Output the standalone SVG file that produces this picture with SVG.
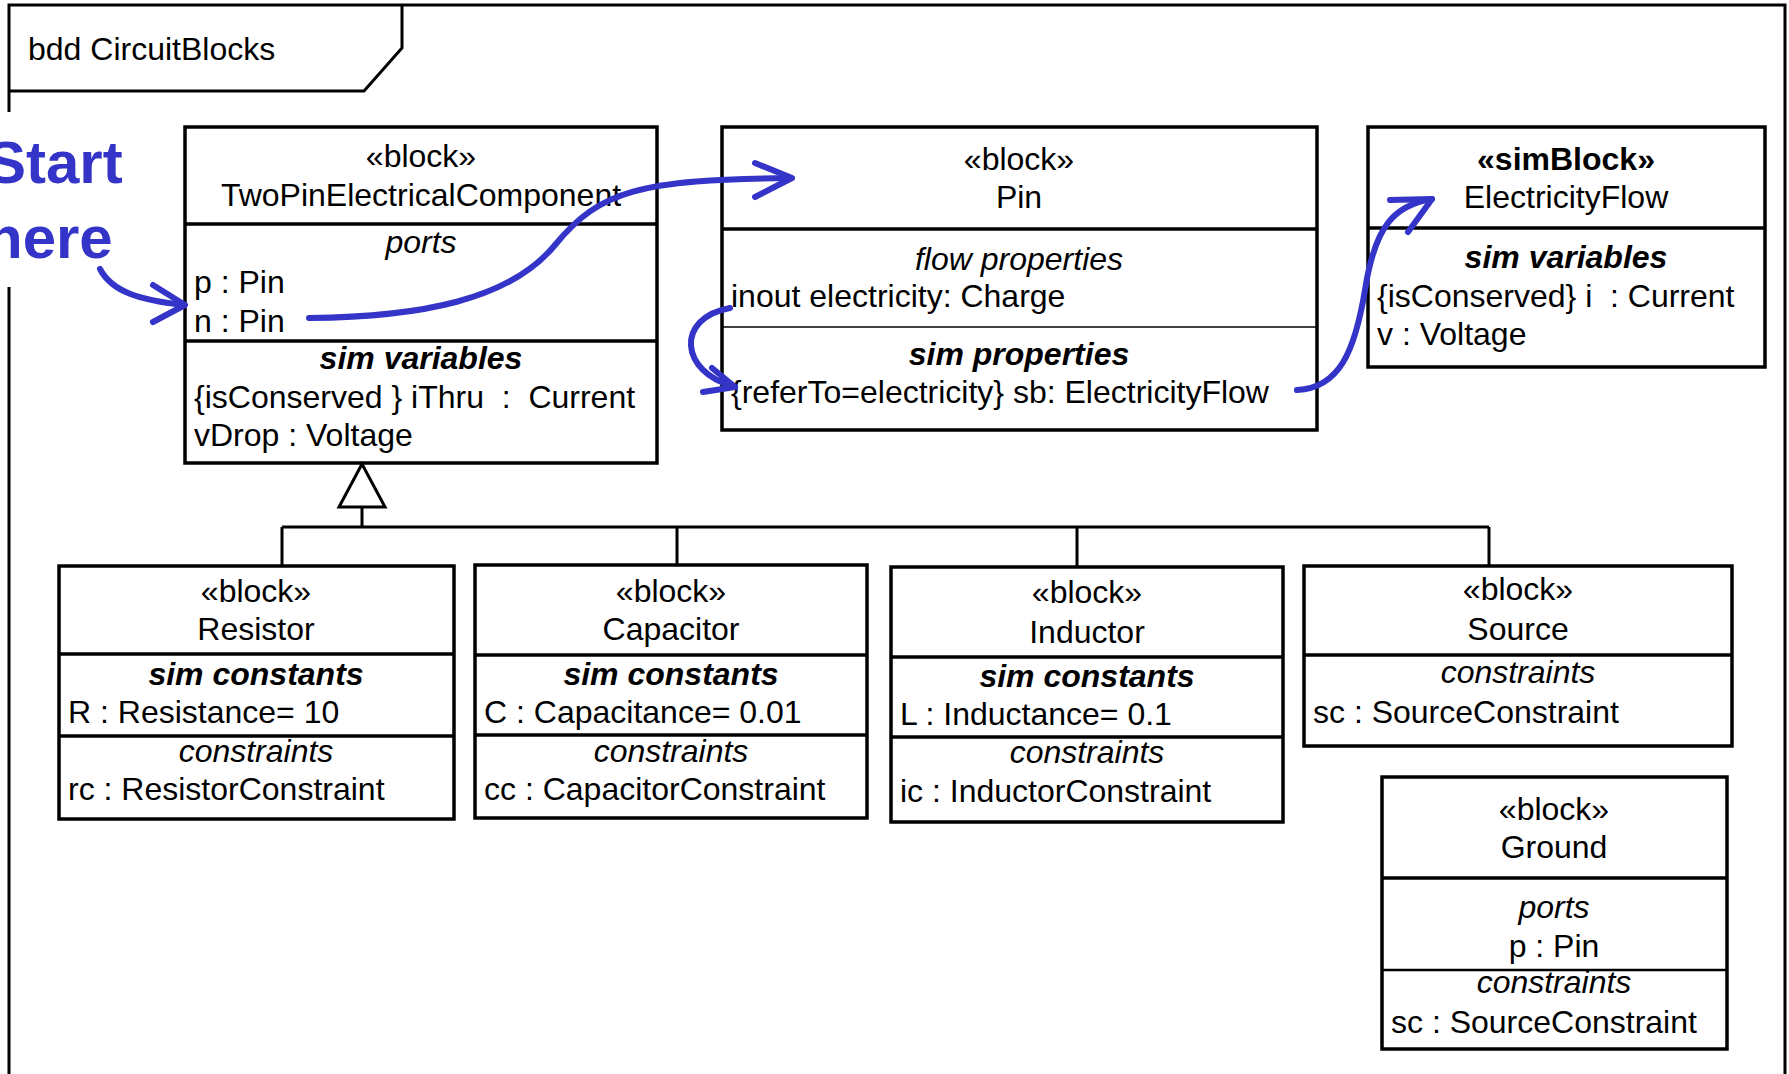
<svg xmlns="http://www.w3.org/2000/svg" width="1789" height="1074" viewBox="0 0 1789 1074">
<style>
.box{fill:#fff;stroke:#000;stroke-width:3.5}
.dv{stroke:#000;stroke-width:3.5;fill:none}
.thin{stroke:#000;stroke-width:1.5;fill:none}
.ln{stroke:#000;stroke-width:3;fill:none}
text{font-family:"Liberation Sans",Arial,sans-serif;font-size:32px;fill:#000;white-space:pre}
.c{text-anchor:middle}
.i{font-style:italic}
.b{font-weight:bold}
.bi{font-weight:bold;font-style:italic}
.blue{fill:none;stroke:#3434C8;stroke-width:6;stroke-linecap:round;stroke-linejoin:round}
.st{font-size:60px;font-weight:bold;fill:#3434C8}
</style>
<rect width="1789" height="1074" fill="#fff"/>
<g id="frame">
<path class="ln" d="M9,112 L9,5 L1785,5 L1785,1074"/>
<path class="ln" d="M9,287 L9,1074"/>
<path class="ln" d="M9,91 L364,91 L402,48 L402,5"/>
<text x="28" y="60">bdd CircuitBlocks</text>
</g>
<g id="TwoPinElectricalComponent">
<rect class="box" x="185" y="127" width="472" height="336"/>
<line class="dv" x1="185" y1="224" x2="657" y2="224"/>
<line class="dv" x1="185" y1="341" x2="657" y2="341"/>
<text class="c" x="421" y="167">«block»</text>
<text class="c" x="421" y="206">TwoPinElectricalComponent</text>
<text class="c i" x="421" y="253">ports</text>
<text x="194" y="293">p : Pin</text>
<text x="194" y="332">n : Pin</text>
<text class="c bi" x="421" y="369">sim variables</text>
<text x="194" y="408">{isConserved } iThru  :  Current</text>
<text x="194" y="446">vDrop : Voltage</text>
</g>
<g id="Pin">
<rect class="box" x="722" y="127" width="595" height="303"/>
<line class="dv" x1="722" y1="229" x2="1317" y2="229"/>
<line class="thin" x1="722" y1="327" x2="1317" y2="327"/>
<text class="c" x="1019" y="170">«block»</text>
<text class="c" x="1019" y="208">Pin</text>
<text class="c i" x="1019" y="270">flow properties</text>
<text x="731" y="307">inout electricity: Charge</text>
<text class="c bi" x="1019" y="365">sim properties</text>
<text x="731" y="403">{referTo=electricity} sb: ElectricityFlow</text>
</g>
<g id="ElectricityFlow">
<rect class="box" x="1368" y="127" width="397" height="240"/>
<line class="dv" x1="1368" y1="228" x2="1765" y2="228"/>
<text class="c b" x="1566" y="170">«simBlock»</text>
<text class="c" x="1566" y="208">ElectricityFlow</text>
<text class="c bi" x="1566" y="268">sim variables</text>
<text x="1377" y="307">{isConserved} i  : Current</text>
<text x="1377" y="345">v : Voltage</text>
</g>
<g id="Resistor">
<rect class="box" x="59" y="566" width="395" height="253"/>
<line class="dv" x1="59" y1="654" x2="454" y2="654"/>
<line class="dv" x1="59" y1="736" x2="454" y2="736"/>
<text class="c" x="256" y="602">«block»</text>
<text class="c" x="256" y="640">Resistor</text>
<text class="c bi" x="256" y="685">sim constants</text>
<text x="68" y="723">R : Resistance= 10</text>
<text class="c i" x="256" y="762">constraints</text>
<text x="68" y="800">rc : ResistorConstraint</text>
</g>
<g id="Capacitor">
<rect class="box" x="475" y="565" width="392" height="253"/>
<line class="dv" x1="475" y1="655" x2="867" y2="655"/>
<line class="dv" x1="475" y1="735" x2="867" y2="735"/>
<text class="c" x="671" y="602">«block»</text>
<text class="c" x="671" y="640">Capacitor</text>
<text class="c bi" x="671" y="685">sim constants</text>
<text x="484" y="723">C : Capacitance= 0.01</text>
<text class="c i" x="671" y="762">constraints</text>
<text x="484" y="800">cc : CapacitorConstraint</text>
</g>
<g id="Inductor">
<rect class="box" x="891" y="567" width="392" height="255"/>
<line class="dv" x1="891" y1="657" x2="1283" y2="657"/>
<line class="dv" x1="891" y1="737" x2="1283" y2="737"/>
<text class="c" x="1087" y="603">«block»</text>
<text class="c" x="1087" y="643">Inductor</text>
<text class="c bi" x="1087" y="687">sim constants</text>
<text x="900" y="725">L : Inductance= 0.1</text>
<text class="c i" x="1087" y="763">constraints</text>
<text x="900" y="802">ic : InductorConstraint</text>
</g>
<g id="Source">
<rect class="box" x="1304" y="566" width="428" height="180"/>
<line class="dv" x1="1304" y1="655" x2="1732" y2="655"/>
<text class="c" x="1518" y="600">«block»</text>
<text class="c" x="1518" y="640">Source</text>
<text class="c i" x="1518" y="683">constraints</text>
<text x="1313" y="723">sc : SourceConstraint</text>
</g>
<g id="Ground">
<rect class="box" x="1382" y="777" width="345" height="272"/>
<line class="dv" x1="1382" y1="878" x2="1727" y2="878"/>
<line class="dv" x1="1382" y1="970" x2="1727" y2="970" style="stroke-width:2.5"/>
<text class="c" x="1554" y="820">«block»</text>
<text class="c" x="1554" y="858">Ground</text>
<text class="c i" x="1554" y="918">ports</text>
<text class="c" x="1554" y="957">p : Pin</text>
<text class="c i" x="1554" y="993">constraints</text>
<text x="1391" y="1033">sc : SourceConstraint</text>
</g>
<g id="connectors">
<path class="ln" d="M362,507 L362,527 M282,527 L1489,527 M282,527 L282,566 M677,527 L677,565 M1077,527 L1077,567 M1489,527 L1489,566"/>
<path d="M362,464 L385,507 L339,507 Z" fill="#fff" stroke="#000" stroke-width="3"/>
</g>
<g id="annotations">
<text class="st" x="-14" y="183">Start</text>
<text class="st" x="-14" y="258">here</text>
<path class="blue" d="M100,269 C112,292 140,300 183,305"/>
<path class="blue" d="M153,285 L185,305 L153,322"/>
<path class="blue" d="M309,318 C420,317 510,300 555,245 C600,190 640,180 790,178"/>
<path class="blue" d="M755,163 L792,178 L755,197"/>
<path class="blue" d="M730,308 C675,318 680,372 733,386"/>
<path class="blue" d="M712,368 L735,387 L703,392"/>
<path class="blue" d="M1297,390 C1340,388 1355,350 1365,290 C1375,225 1395,205 1432,199"/>
<path class="blue" d="M1390,200 L1432,199 L1408,232"/>
</g>
</svg>
